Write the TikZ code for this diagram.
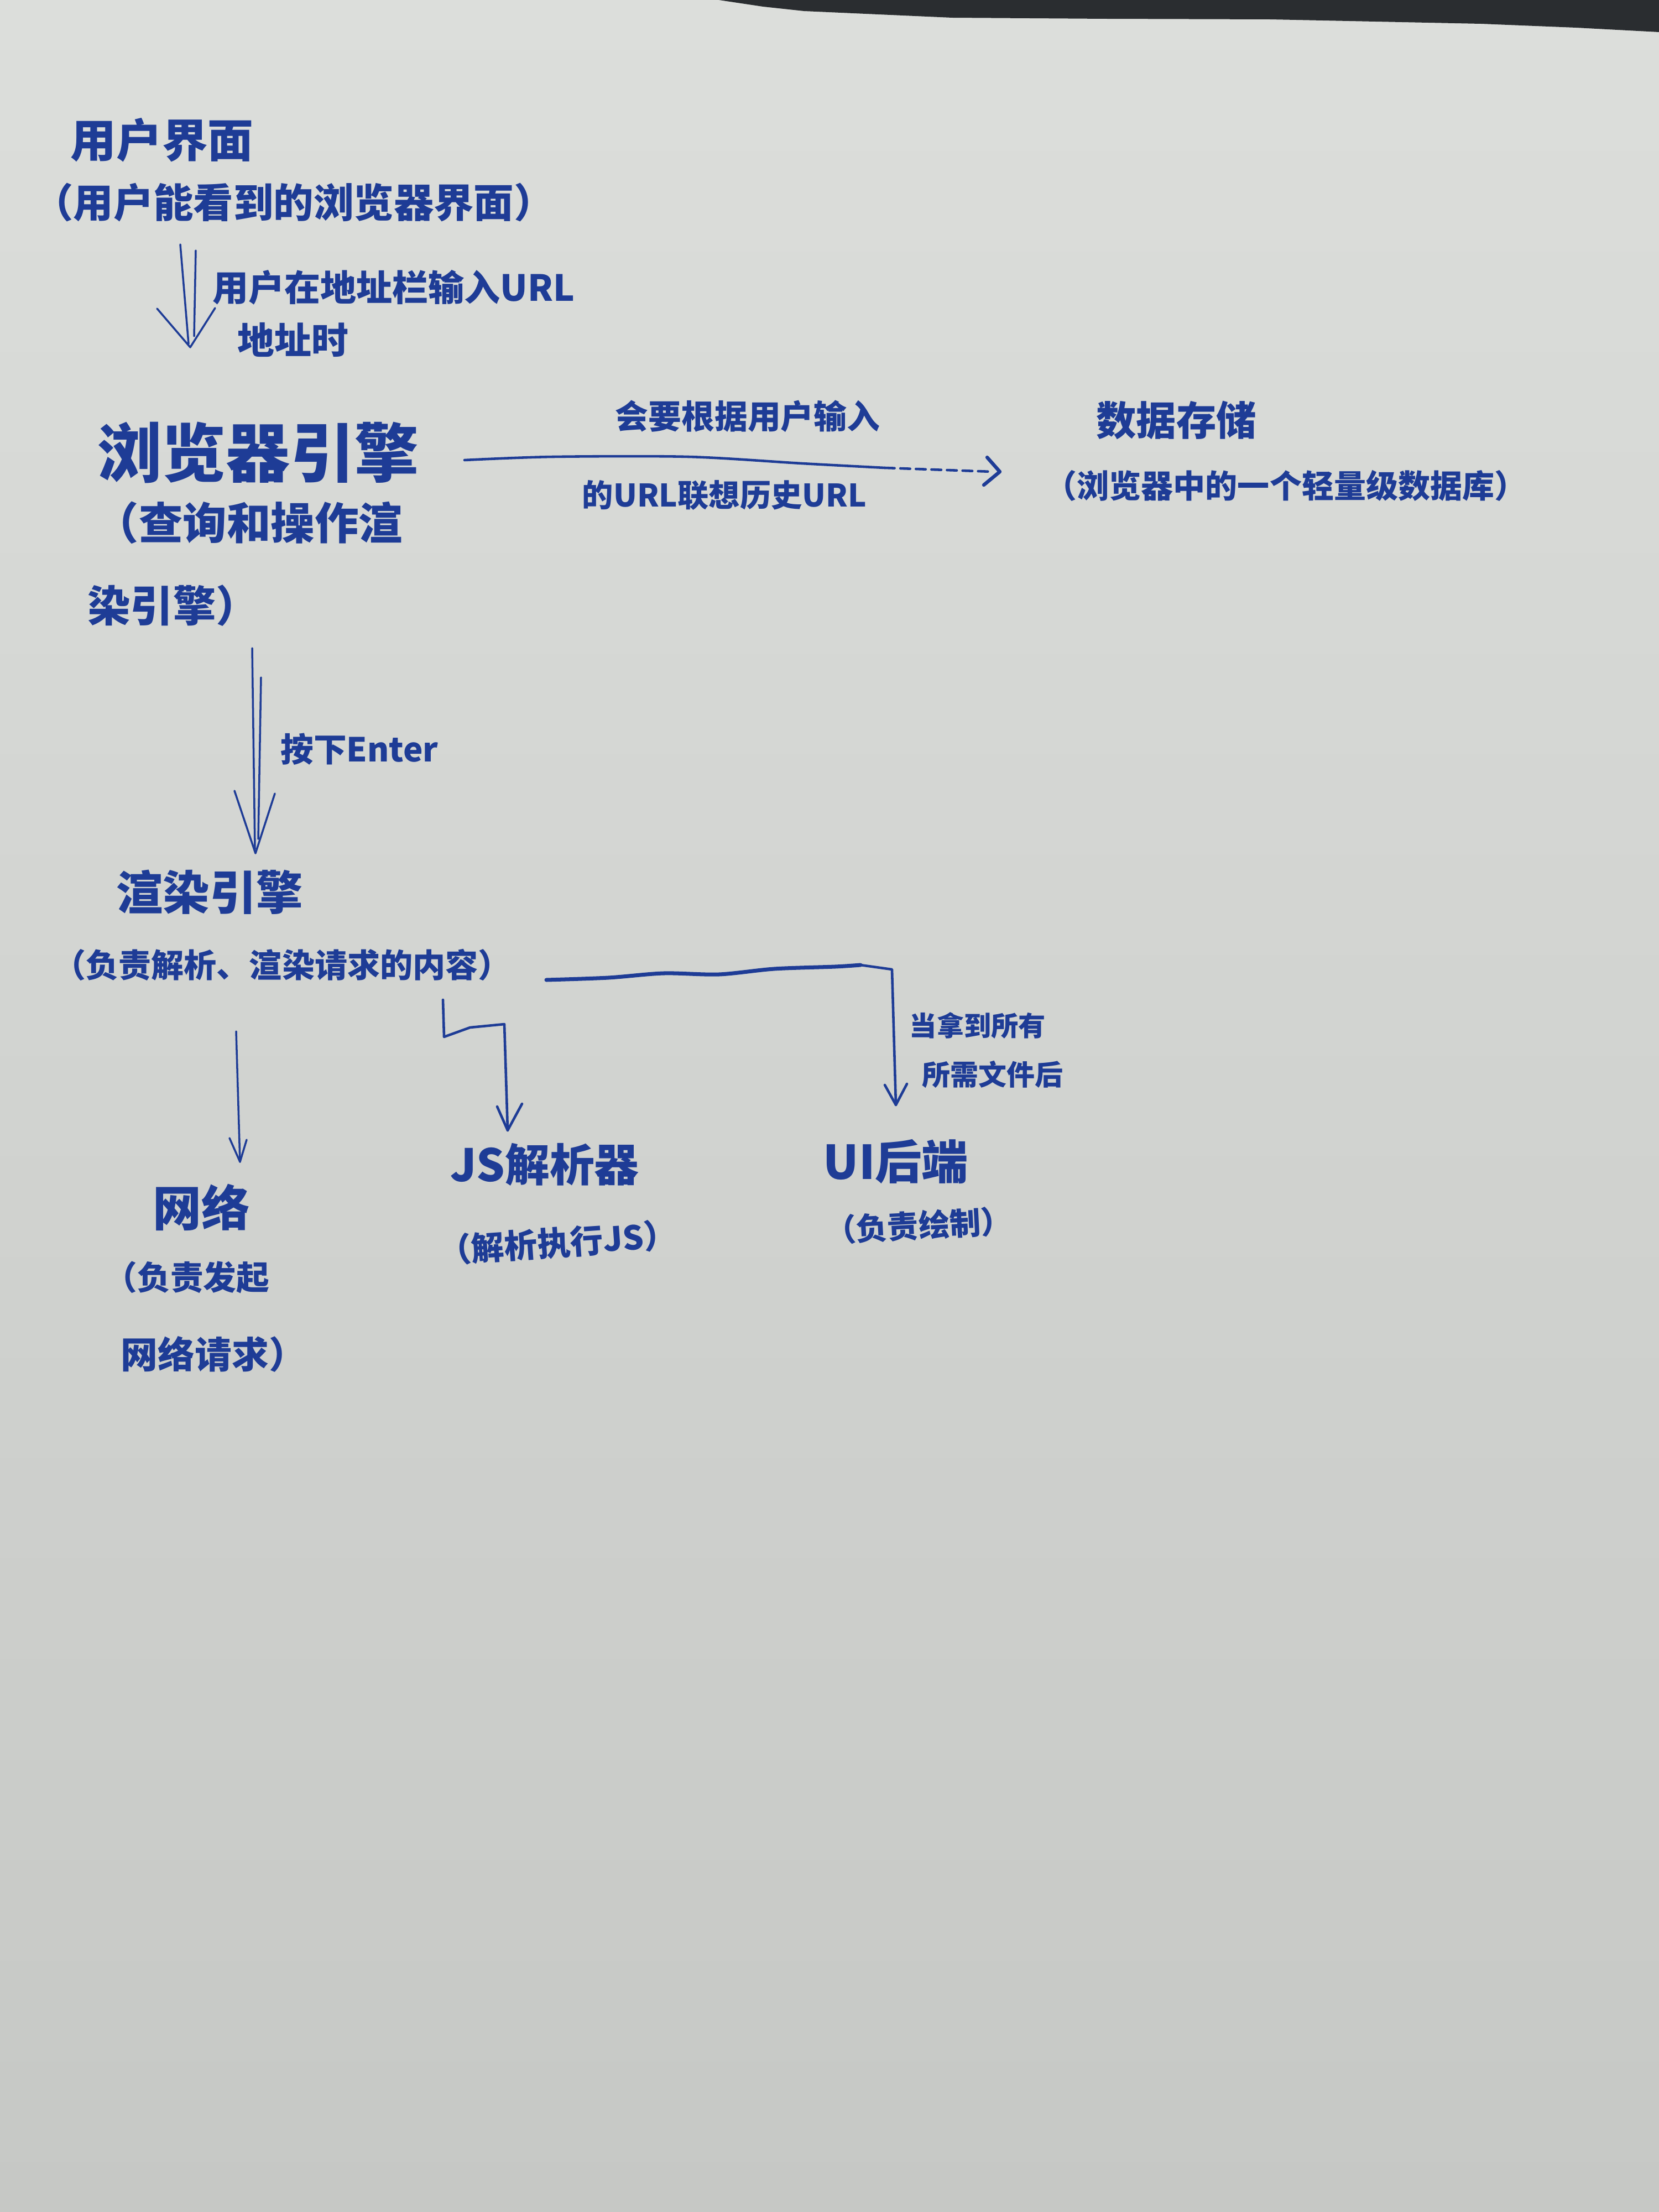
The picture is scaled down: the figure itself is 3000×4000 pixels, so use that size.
\documentclass[tikz,border=0pt]{standalone}
\usepackage{fontspec}
\newfontfamily\cjk{Noto Sans CJK SC}
\usetikzlibrary{calc}
\definecolor{ink}{HTML}{1E3C96}
\definecolor{paperA}{HTML}{DCDEDB}
\definecolor{paperB}{HTML}{C6C8C5}
\definecolor{deskcol}{HTML}{2A2D30}
\newcommand{\fsz}[1]{\fontsize{#1}{#1}\selectfont}
\begin{document}
\begin{tikzpicture}[x=0.01cm,y=-0.01cm,
  hw/.style={inner sep=0pt, text=ink, anchor=center, font={\cjk\bfseries\fsz{#1}}},
  pen/.style={draw=ink, line width=1.3pt, line cap=round, line join=round},
  thinpen/.style={draw=ink, line width=1.0pt, line cap=round, line join=round},
  thickpen/.style={draw=ink, line width=2.0pt, line cap=round, line join=round}]
\useasboundingbox (0,0) rectangle (3000,4000);
\shade[top color=paperA, bottom color=paperB] (0,0) rectangle (3000,4000);
\fill[deskcol] (1300,0) -- (1380,12) -- (1454,20) -- (1722,32) -- (2000,34) -- (2296,35) -- (2678,43) -- (2850,50) -- (3000,58) -- (3000,0) -- cycle;

% nodes
\node[hw=23.5] (ui) at (293,253) {用户界面};
\node[hw=20.6] (uisub) at (531,366) {（用户能看到的浏览器界面）};
\node[hw=18.5] (lbl1a) at (712,520) {用户在地址栏输入URL};
\node[hw=19] (lbl1b) at (530,615) {地址时};

\node[hw=33] (be) at (467,818) {浏览器引擎};
\node[hw=22.6] (besub1) at (450,945) {（查询和操作渲};
\node[hw=22] (besub2) at (313,1095) {染引擎）};

\node[hw=17] (lbl2a) at (1352,753) {会要根据用户输入};
\node[hw=16] (lbl2b) at (1310,895) {的URL联想历史URL};

\node[hw=20.6] (ds) at (2127,760) {数据存储};
\node[hw=16.5] (dssub) at (2325,878) {（浏览器中的一个轻量级数据库）};

\node[hw=17] (lbl3) at (650,1355) {按下Enter};

\node[hw=24] (re) at (379,1613) {渲染引擎};
\node[hw=16.8] (resub) at (510,1745) {（负责解析、渲染请求的内容）};

\node[hw=14] (lbl4a) at (1768,1855) {当拿到所有};
\node[hw=14.5] (lbl4b) at (1795,1943) {所需文件后};

\node[hw=25] (net) at (364,2183) {网络};
\node[hw=17] (netsub1) at (338,2310) {（负责发起};
\node[hw=19] (netsub2) at (386,2449) {网络请求）};

\node[hw=23] (js) at (985,2106) {JS解析器};
\node[hw=17, rotate=4] (jssub) at (1008,2247) {（解析执行JS）};

\node[hw=24] (uib) at (1620,2101) {UI后端};
\node[hw=16, rotate=3] (uibsub) at (1661,2216) {（负责绘制）};

% arrow 1: 用户界面 -> 浏览器引擎 (double stem)
\draw[thinpen] ($(uisub)+(-205,76)$) -- ($(be)+(-126,-196)$);
\draw[thinpen] ($(uisub)+(-177,87)$) -- ($(be)+(-116,-210)$);
\draw[thinpen] ($(be)+(-183,-260)$) -- ($(be)+(-123,-190)$) -- ($(be)+(-78,-261)$);

% arrow 2: 浏览器引擎 -> 渲染引擎 (double stem)
\draw[thinpen] ($(besub2)+(143,77)$) -- ($(re)+(82,-78)$);
\draw[thinpen] ($(besub2)+(159,130)$) -- ($(re)+(88,-96)$);
\draw[thinpen] ($(re)+(45,-183)$) -- ($(re)+(83,-70)$) -- ($(re)+(118,-178)$);

% arrow 3: 浏览器引擎 -> 数据存储
\coordinate (h0) at ($(be)+(373,14)$);
\coordinate (h1) at ($(be)+(533,8)$);
\coordinate (h2) at ($(be)+(778,8)$);
\coordinate (h3) at ($(be)+(983,20)$);
\coordinate (h4) at ($(be)+(1133,28)$);
\coordinate (h5) at ($(dssub)+(-530,-25)$);
\draw[pen] plot[smooth] coordinates {(h0) (h1) (h2) (h3) (h4)};
\draw[pen, dash pattern=on 5pt off 3pt] (h4) -- (h5);
\draw[pen, line width=1.8pt] ($(dssub)+(-540,-51)$) -- ($(dssub)+(-517,-25)$) -- ($(dssub)+(-546,-1)$);

% arrow 4: 渲染引擎 -> UI后端
\coordinate (u0) at ($(resub)+(478,27)$);
\coordinate (u1) at ($(resub)+(590,23)$);
\coordinate (u2) at ($(resub)+(690,15)$);
\coordinate (u3) at ($(resub)+(790,17)$);
\coordinate (u4) at ($(resub)+(890,7)$);
\coordinate (u5) at ($(resub)+(1000,3)$);
\coordinate (u6) at ($(resub)+(1046,0)$);
\coordinate (u7) at ($(uib)+(-7,-348)$);
\coordinate (u8) at ($(uib)+(0,-103)$);
\draw[thickpen] plot[smooth] coordinates {(u0) (u1) (u2) (u3) (u4) (u5) (u6)};
\draw[pen] (u6) -- (u7) -- (u8);
\draw[pen] ($(uib)+(-20,-139)$) -- (u8) -- ($(uib)+(20,-141)$);

% arrow 5: 渲染引擎 -> JS解析器
\coordinate (j0) at ($(resub)+(291,63)$);
\coordinate (j1) at ($(resub)+(293,130)$);
\coordinate (j2) at ($(resub)+(340,113)$);
\coordinate (j3) at ($(js)+(-73,-254)$);
\coordinate (j4) at ($(js)+(-67,-62)$);
\draw[pen] (j0) -- (j1) -- (j2) -- (j3) -- (j4);
\draw[pen] ($(js)+(-86,-105)$) -- (j4) -- ($(js)+(-41,-110)$);

% arrow 6: 渲染引擎 -> 网络
\coordinate (n0) at ($(resub)+(-83,120)$);
\coordinate (n1) at ($(net)+(70,-82)$);
\draw[thinpen] (n0) -- (n1);
\draw[thinpen] ($(net)+(51,-125)$) -- (n1) -- ($(net)+(82,-122)$);
\end{tikzpicture}
\end{document}
